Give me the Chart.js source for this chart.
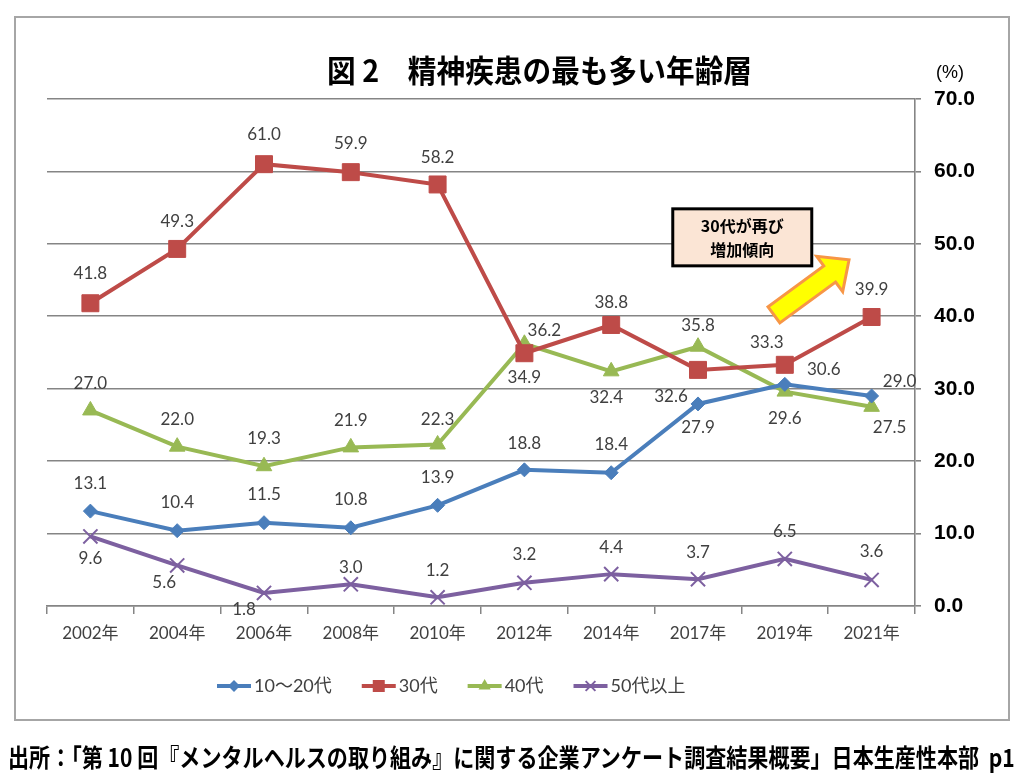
<!DOCTYPE html>
<html>
<head>
<meta charset="utf-8">
<script src="https://cdn.jsdelivr.net/npm/chart.js@4"></script>
<style>
body{margin:0;background:#fff;}
#wrap{position:relative;width:1024px;height:783px;overflow:hidden;}
#frame{position:absolute;left:14px;top:16px;width:996px;height:705px;border:2px solid #a6a6a6;box-sizing:border-box;}
#src{position:absolute;left:8px;top:738px;font:bold 25px "Noto Sans CJK JP";white-space:nowrap;transform-origin:0 0;color:#000;}
canvas{position:absolute;left:0;top:0;}
</style>
</head>
<body>
<div id="wrap">
<div id="frame"></div>
<canvas id="c" width="1024" height="783"></canvas>
<div id="src">出所：「第 10 回『メンタルヘルスの取り組み』に関する企業アンケート調査結果概要」日本生産性本部&nbsp; p1</div>
</div>
<script>
"use strict"
const years = ['2002年','2004年','2006年','2008年','2010年','2012年','2014年','2017年','2019年','2021年'];
const seriesNames = ['10～20代','30代','40代','50代以上'];
const teens    = [13.1, 10.4, 11.5, 10.8, 13.9, 18.8, 18.4, 27.9, 30.6, 29.0];
const thirties = [41.8, 49.3, 61.0, 59.9, 58.2, 34.9, 38.8, 32.6, 33.3, 39.9];
const forties  = [27.0, 22.0, 19.3, 21.9, 22.3, 36.2, 32.4, 35.8, 29.6, 27.5];
const fifties  = [9.6, 5.6, 1.8, 3.0, 1.2, 3.2, 4.4, 3.7, 6.5, 3.6];

// where each value label sits relative to its point (px)
const teensOff    = [[0,-28],[0,-28],[0,-28],[0,-28],[0,-28],[0,-26],[0,-28],[0,24],[39,-15],[28,-14]];
const thirtiesOff = [[0,-30],[0,-27],[0,-30],[0,-29],[0,-27],[0,24],[0,-22],[-27,27],[-18,-22],[0,-27]];
const fortiesOff  = [[0,-27],[0,-27],[0,-28],[0,-27],[0,-25],[20,-13],[-5,26],[0,-21],[0,27],[18,21]];
const fiftiesOff  = [[0,22],[-13,17],[-20,17],[0,-17],[0,-27],[0,-28],[0,-27],[0,-27],[0,-27],[0,-28]];

const colors = ['#4a7ebb','#be4b48','#98b954','#7d60a0'];
const numFont = 'Lato, "Noto Sans CJK JP", sans-serif';
const jpFont = '"Noto Sans CJK JP", sans-serif';

function marker(ctx, style, x, y, r, color){
    ctx.save();
    ctx.fillStyle = color;
    ctx.strokeStyle = color;
    ctx.lineWidth = 2;
    ctx.beginPath();
    if(style=='rectRot'){
        ctx.moveTo(x-r,y); ctx.lineTo(x,y-r); ctx.lineTo(x+r,y); ctx.lineTo(x,y+r); ctx.closePath(); ctx.fill();
    } else if(style=='rect'){
        ctx.rect(x-r,y-r,2*r,2*r); ctx.fill();
    } else if(style=='triangle'){
        ctx.moveTo(x,y-r); ctx.lineTo(x+r*0.87,y+r/2); ctx.lineTo(x-r*0.87,y+r/2); ctx.closePath(); ctx.fill();
    } else {
        const d = r*0.7;
        ctx.moveTo(x-d,y-d); ctx.lineTo(x+d,y+d); ctx.moveTo(x+d,y-d); ctx.lineTo(x-d,y+d); ctx.stroke();
    }
    ctx.restore();
}

const labelPlugin = {
    id:'valueLabels',
    afterDatasetsDraw(chart){
        const ctx = chart.ctx;
        ctx.save();
        ctx.font = '17px ' + numFont;
        ctx.fillStyle = '#404040';
        ctx.textAlign = 'center';
        ctx.textBaseline = 'middle';
        chart.data.datasets.forEach((ds,i)=>{
            chart.getDatasetMeta(i).data.forEach((pt,j)=>{
                const o = ds.labelOffsets[j];
                ctx.fillText(ds.data[j].toFixed(1), pt.x+o[0], pt.y+o[1]);
            });
        });
        ctx.restore();
    }
};

const decorPlugin = {
    id:'decor',
    afterDraw(chart){
        const ctx = chart.ctx;
        const xs = chart.scales.x, ys = chart.scales.y;
        ctx.save();
        // title
        ctx.font = 'bold 31px ' + jpFont;
        ctx.fillStyle = '#000';
        ctx.textBaseline = 'middle';
        ctx.textAlign = 'left';
        const title = '図 2\u3000精神疾患の最も多い年齢層';
        const tw = ctx.measureText(title).width;
        const sx = 425 / tw;
        ctx.save();
        ctx.translate(327, 70);
        ctx.scale(sx, 1);
        ctx.fillText(title, 0, 0);
        ctx.restore();
        // unit
        ctx.font = '18px "Liberation Sans Narrow", "Liberation Sans", sans-serif';
        ctx.textAlign = 'center';
        ctx.fillText('(%)', 950, 73);

        // callout box
        const cx = xs.getPixelForValue(7.51), cy = ys.getPixelForValue(50.9);
        const bw = 139, bh = 57;
        ctx.fillStyle = '#fbe5d5';
        ctx.fillRect(cx-bw/2, cy-bh/2, bw, bh);
        ctx.lineWidth = 3;
        ctx.strokeStyle = '#000';
        ctx.strokeRect(cx-bw/2, cy-bh/2, bw, bh);
        ctx.fillStyle = '#000';
        ctx.font = 'bold 16px ' + jpFont;
        ctx.fillText('30代が再び', cx, cy-11);
        ctx.fillText('増加傾向', cx, cy+13);

        // arrow
        const tx = xs.getPixelForValue(7.875), ty = ys.getPixelForValue(40.2);
        const hx = xs.getPixelForValue(8.74), hy = ys.getPixelForValue(47.8);
        const len = Math.hypot(hx-tx, hy-ty);
        const ux = (hx-tx)/len, uy = (hy-ty)/len;
        const nx = -uy, ny = ux;
        const sw = 10, hw = 22, hl = 24;
        const bx = hx-ux*hl, by = hy-uy*hl;
        ctx.beginPath();
        ctx.moveTo(tx+nx*sw, ty+ny*sw);
        ctx.lineTo(bx+nx*sw, by+ny*sw);
        ctx.lineTo(bx+nx*hw, by+ny*hw);
        ctx.lineTo(hx, hy);
        ctx.lineTo(bx-nx*hw, by-ny*hw);
        ctx.lineTo(bx-nx*sw, by-ny*sw);
        ctx.lineTo(tx-nx*sw, ty-ny*sw);
        ctx.closePath();
        ctx.fillStyle = '#ffff00';
        ctx.fill();
        ctx.lineWidth = 3;
        ctx.strokeStyle = '#f79646';
        ctx.stroke();

        // legend
        ctx.font = '18px ' + numFont;
        ctx.textAlign = 'left';
        ctx.fillStyle = '#404040';
        let x = 217;
        const ly = 686;
        chart.data.datasets.forEach((ds)=>{
            ctx.strokeStyle = ds.borderColor;
            ctx.lineWidth = 4;
            ctx.beginPath();
            ctx.moveTo(x, ly); ctx.lineTo(x+34, ly); ctx.stroke();
            const r = ds.pointStyle=='rect' ? 6 : (ds.pointStyle=='rectRot' ? 6 : 7);
            marker(ctx, ds.pointStyle, x+17, ly, r, ds.borderColor);
            ctx.fillStyle = '#404040';
            ctx.fillText(ds.label, x+37, ly);
            x += 37 + ctx.measureText(ds.label).width + 30;
        });
        ctx.restore();
    }
};

function makeSet(i, data, offs, style, radius, bw){
    return {
        label: seriesNames[i],
        data: data,
        labelOffsets: offs,
        borderColor: colors[i],
        backgroundColor: colors[i],
        borderWidth: 4,
        tension: 0,
        pointStyle: style,
        pointRadius: radius,
        pointBackgroundColor: colors[i],
        pointBorderColor: colors[i],
        pointBorderWidth: bw
    };
}

new Chart(document.getElementById('c'), {
    type:'line',
    data:{
        labels: years,
        datasets:[
            makeSet(0, teens, teensOff, 'rectRot', 7, 1),
            makeSet(1, thirties, thirtiesOff, 'rect', 12, 1),
            makeSet(2, forties, fortiesOff, 'triangle', 9, 1),
            makeSet(3, fifties, fiftiesOff, 'crossRot', 10, 2)
        ]
    },
    options:{
        responsive:false,
        animation:false,
        layout:{padding:{top:99,left:47,right:14,bottom:137}},
        plugins:{legend:{display:false},title:{display:false},tooltip:{enabled:false}},
        scales:{
            x:{
                offset:true,
                grid:{drawOnChartArea:false, offset:true, tickLength:8, color:'#858585', lineWidth:1.5},
                border:{color:'#858585', width:1.5},
                ticks:{font:{family:numFont, size:17}, color:'#404040', padding:9, maxRotation:0, autoSkip:false},
                afterFit(s){ s.height = 40; }
            },
            y:{
                position:'right',
                min:0, max:70,
                grid:{color:'#858585', lineWidth:1.6, tickLength:6},
                border:{color:'#858585', width:1.6},
                ticks:{stepSize:10, callback:v=>v.toFixed(1), color:'#000', padding:13,
                    font:{family:'"Liberation Sans Narrow", "Liberation Sans", sans-serif', size:21, weight:'bold'}},
                afterFit(s){ s.width = 95; }
            }
        }
    },
    plugins:[labelPlugin, decorPlugin]
});

const src = document.getElementById('src');
src.style.transform = 'scaleX(' + (1007 / src.scrollWidth) + ')';
</script>
</body>
</html>
